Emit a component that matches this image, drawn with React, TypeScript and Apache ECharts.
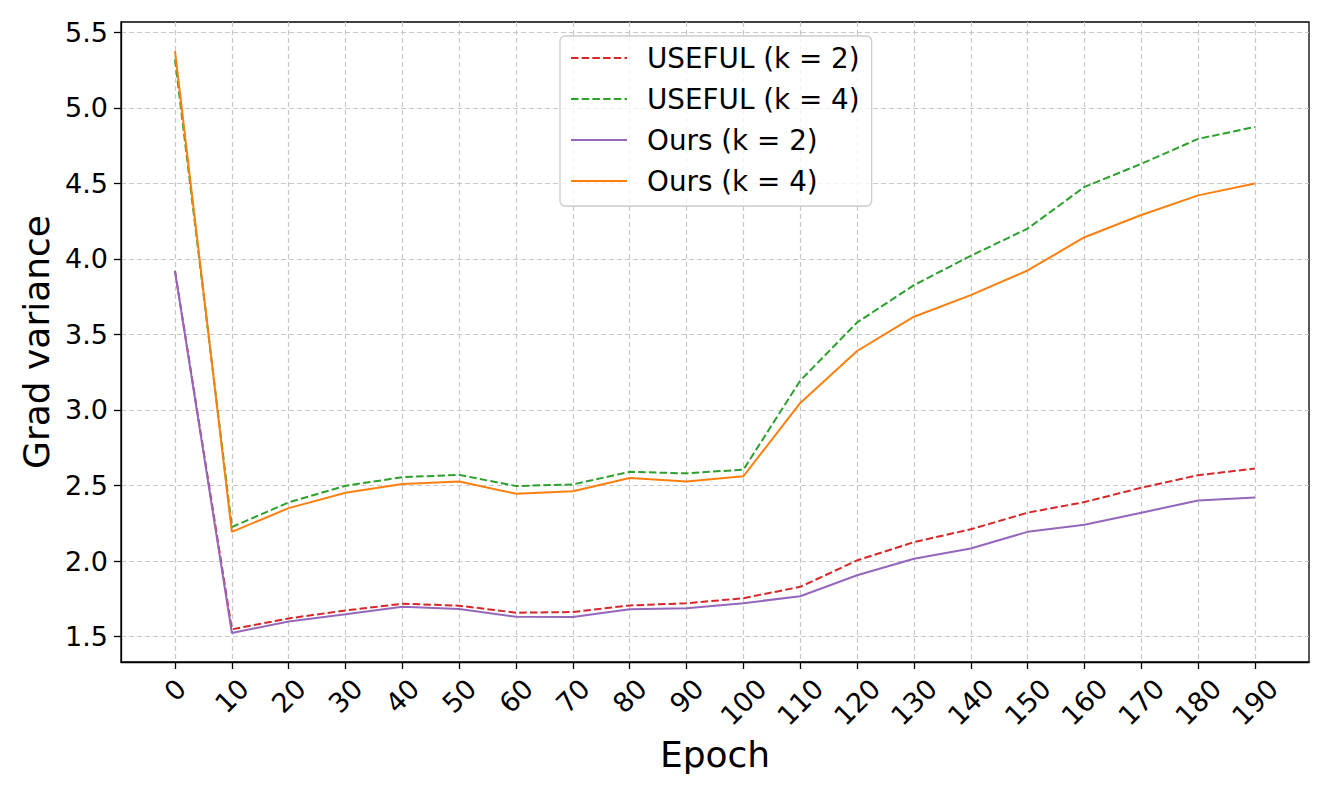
import React, { useEffect, useRef } from "react";
import * as echarts from "echarts";

const epochs = [0, 10, 20, 30, 40, 50, 60, 70, 80, 90, 100, 110, 120, 130, 140, 150, 160, 170, 180, 190];
const usefulK2 = [3.92, 1.548, 1.62, 1.673, 1.717, 1.704, 1.658, 1.662, 1.706, 1.72, 1.754, 1.829, 2.004, 2.125, 2.21, 2.32, 2.39, 2.485, 2.568, 2.612];
const usefulK4 = [5.32, 2.225, 2.388, 2.498, 2.555, 2.57, 2.496, 2.507, 2.59, 2.58, 2.605, 3.194, 3.579, 3.826, 4.02, 4.2, 4.476, 4.629, 4.794, 4.873];
const oursK2 = [3.917, 1.524, 1.599, 1.647, 1.697, 1.682, 1.631, 1.629, 1.68, 1.688, 1.721, 1.767, 1.906, 2.015, 2.083, 2.193, 2.24, 2.32, 2.4, 2.42];
const oursK4 = [5.375, 2.193, 2.35, 2.452, 2.509, 2.526, 2.445, 2.462, 2.55, 2.526, 2.561, 3.046, 3.39, 3.617, 3.76, 3.923, 4.143, 4.29, 4.42, 4.498];
const yTicks = [1.5, 2.0, 2.5, 3.0, 3.5, 4.0, 4.5, 5.0, 5.5];
const seriesNames = ["USEFUL (k = 2)", "USEFUL (k = 4)", "Ours (k = 2)", "Ours (k = 4)"];

const FONT = "DejaVu Sans";
const dash = [7.5, 3.2];

export default function App() {
  const ref = useRef<HTMLDivElement>(null);
  useEffect(() => {
    if (!ref.current) return;
    const chart = echarts.init(ref.current, undefined, { renderer: "svg" });
    const pair = (arr: number[]) => epochs.map((e, i) => [e, arr[i]]);
    const mk = (name: string, data: number[], color: string, dashed: boolean) => ({
      name,
      type: "line",
      data: pair(data),
      symbol: "none",
      lineStyle: { color, width: 2, type: dashed ? dash : "solid" },
      itemStyle: { color },
    });
    const gridLine = { show: true, lineStyle: { color: "#c8c8c8", width: 1.2, type: [5, 3] } };
    chart.setOption({
      animation: false,
      backgroundColor: "#ffffff",
      textStyle: { fontFamily: FONT },
      grid: {
        left: 121,
        right: 20,
        top: 22,
        bottom: 135,
        show: true,
        borderColor: "#000000",
        borderWidth: 1.3,
        backgroundColor: "#ffffff",
        containLabel: false,
      },
      legend: {
        orient: "vertical",
        left: 560,
        top: 36,
        itemWidth: 56,
        itemHeight: 14,
        itemGap: 13,
        padding: [8, 12, 11, 10],
        backgroundColor: "rgba(255,255,255,0.8)",
        borderColor: "#cccccc",
        borderWidth: 1.3,
        borderRadius: 5,
        itemStyle: { color: "rgba(0,0,0,0)", borderWidth: 0, opacity: 0 },
        textStyle: { fontSize: 27.8, fontFamily: FONT, color: "#000", padding: [0, 0, 0, 15] },
        data: seriesNames,
      },
      xAxis: {
        type: "value",
        min: -9.5,
        max: 199.5,
        name: "Epoch",
        nameLocation: "middle",
        nameGap: 73,
        nameTextStyle: { fontSize: 36, fontFamily: FONT, color: "#000" },
        axisLine: { show: true, onZero: false, lineStyle: { color: "#000", width: 1.3 } },
        axisTick: { show: true, length: 7, lineStyle: { color: "#000", width: 1.3 }, customValues: epochs },
        splitLine: gridLine,
        axisLabel: {
          customValues: epochs,
          rotate: 45,
          margin: 28,
          align: "center",
          verticalAlign: "middle",
          fontSize: 27,
          fontFamily: FONT,
          color: "#000",
          formatter: (v: number) => {
            const s = String(v);
            return `{d${s.length}|${s}}`;
          },
          rich: {
            d1: { fontSize: 27, fontFamily: FONT, color: "#000", padding: [0, 0, 0, 0] },
            d2: { fontSize: 27, fontFamily: FONT, color: "#000", padding: [8.5, 8.5, 0, 0] },
            d3: { fontSize: 27, fontFamily: FONT, color: "#000", padding: [17, 17, 0, 0] },
          },
        },
      },
      yAxis: {
        type: "value",
        min: 1.3315,
        max: 5.5676,
        name: "Grad variance",
        nameLocation: "middle",
        nameGap: 59,
        nameTextStyle: { fontSize: 36, fontFamily: FONT, color: "#000" },
        axisLine: { show: true, onZero: false, lineStyle: { color: "#000", width: 1.3 } },
        axisTick: { show: true, length: 7, lineStyle: { color: "#000", width: 1.3 }, customValues: yTicks },
        splitLine: gridLine,
        axisLabel: {
          customValues: yTicks,
          margin: 13,
          fontSize: 27,
          fontFamily: FONT,
          color: "#000",
          formatter: (v: number) => v.toFixed(1),
        },
      },
      series: [
        mk(seriesNames[0], usefulK2, "#d62728", true),
        mk(seriesNames[1], usefulK4, "#2ca02c", true),
        mk(seriesNames[2], oursK2, "#9467bd", false),
        mk(seriesNames[3], oursK4, "#ff7f0e", false),
      ],
    });
    return () => chart.dispose();
  }, []);
  return <div ref={ref} style={{ position: "fixed", left: 0, top: 0, width: 1329, height: 797 }} />;
}
